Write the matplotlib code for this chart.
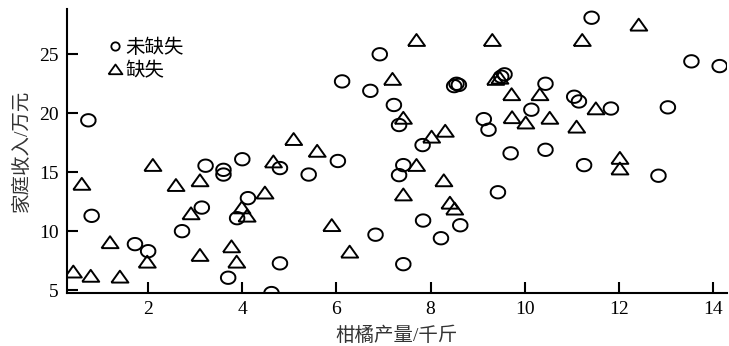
import matplotlib
matplotlib.use("Agg")
import matplotlib.pyplot as plt
import numpy as np
from matplotlib.lines import Line2D

plt.rcParams['font.family'] = ['Liberation Serif', 'Noto Sans CJK SC', 'DejaVu Sans']

# 未缺失 (not missing)
obs_x = [0.73, 0.80, 1.72, 2.00, 2.72, 3.14, 3.22, 3.60, 3.60, 4.00, 3.70, 3.89, 4.12,
         4.62, 4.80, 4.80, 5.41, 6.03, 6.12, 6.72, 6.83, 6.92, 7.22, 7.33, 7.33, 7.42,
         7.42, 7.83, 7.84, 8.22, 8.50, 8.55, 8.60, 8.63, 9.13, 9.23, 9.43, 9.50, 9.57,
         9.70, 10.14, 10.44, 10.44, 11.05, 11.15, 11.26, 11.42, 11.83, 12.84, 13.04,
         13.54, 14.14]
obs_y = [19.4, 11.3, 8.9, 8.3, 10.0, 12.0, 15.55, 15.2, 14.8, 16.1, 6.05, 11.1, 12.8,
         4.75, 7.27, 15.35, 14.8, 15.95, 22.7, 21.9, 9.7, 25.0, 20.7, 19.0, 14.75, 15.6,
         7.2, 17.3, 10.9, 9.4, 22.3, 22.5, 22.4, 10.5, 19.5, 18.6, 13.3, 23.1, 23.3,
         16.6, 20.3, 22.5, 16.9, 21.4, 21.0, 15.6, 28.1, 20.4, 14.7, 20.5,
         24.4, 24.0]

# 缺失 (missing)
mis_x = [0.41, 0.59, 0.78, 1.19, 1.40, 1.98, 2.10, 2.59, 2.91, 3.10, 3.10, 3.77, 3.88,
         3.99, 4.10, 4.48, 4.66, 5.09, 5.59, 5.90, 6.28, 7.19, 7.42, 7.42, 7.70, 7.70,
         8.02, 8.28, 8.31, 8.41, 8.51, 9.31, 9.38, 9.47, 9.72, 9.73, 10.02, 10.32,
         10.53, 11.10, 11.22, 11.51, 12.02, 12.02, 12.42]
mis_y = [6.56, 14.0, 6.2, 9.05, 6.13, 7.4, 15.6, 13.9, 11.5, 14.3, 7.97, 8.7, 7.4,
         12.0, 11.3, 13.26, 15.9, 17.8, 16.8, 10.5, 8.25, 22.9, 19.6, 13.1, 26.2, 15.6,
         18.0, 14.3, 18.5, 12.4, 11.9, 26.2, 22.9, 23.0, 21.6, 19.65, 19.2, 21.6,
         19.6, 18.85, 26.2, 20.4, 16.2, 15.3, 27.5]

labels = ['未缺失', '缺失']
xticks = [2, 4, 6, 8, 10, 12, 14]
yticks = [5, 10, 15, 20, 25]

tri = [(-1, -0.68), (1, -0.68), (0, 0.72), (-1, -0.68)]
_t = np.linspace(0, 2 * np.pi, 41)
ell = list(zip(np.cos(_t), 0.85 * np.sin(_t)))

fig = plt.figure(figsize=(7.29, 3.46), dpi=100)
ax = fig.add_axes([0.0919, 0.153, 0.905, 0.821])

ax.scatter(obs_x, obs_y, s=110, marker=ell, facecolors='none', edgecolors='black',
           linewidths=1.4)
ax.scatter(mis_x, mis_y, s=150, marker=tri, facecolors='none', edgecolors='black',
           linewidths=1.4)

ax.set_xlim(0.276, 14.29)
ax.set_ylim(4.75, 28.84)
ax.set_xticks(xticks)
ax.set_yticks(yticks)
ax.tick_params(direction='in', length=8, width=1.5, labelsize=14, pad=6)
for s in ['top', 'right']:
    ax.spines[s].set_visible(False)
for s in ['left', 'bottom']:
    ax.spines[s].set_linewidth(1.5)

ax.set_xlabel('柑橘产量/千斤', fontsize=14, color='#333333', labelpad=6)
ax.set_ylabel('家庭收入/万元', fontsize=14, color='#333333', labelpad=6)

handles = [Line2D([], [], marker='o', ls='none', mfc='none', mec='black', ms=6, mew=1.3),
           Line2D([], [], marker=tri, ls='none', mfc='none', mec='black', ms=10, mew=1.3)]
ax.legend(handles, labels, loc='upper left', bbox_to_anchor=(0.058, 0.895), frameon=False,
          fontsize=14, handlelength=1.0, handletextpad=0.05, labelspacing=0.25,
          borderpad=0, borderaxespad=0)

fig.savefig('out.png', dpi=100)
